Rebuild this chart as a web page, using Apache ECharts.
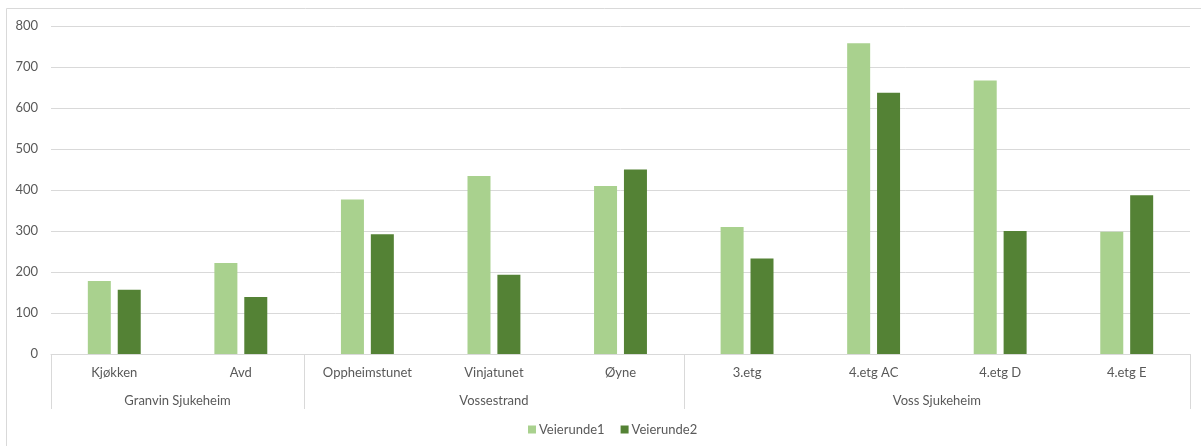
<!DOCTYPE html>
<html>
<head>
<meta charset="utf-8">
<script src="https://cdn.jsdelivr.net/npm/echarts@6/dist/echarts.min.js"></script>
<style>
  html, body { margin: 0; padding: 0; background: #fff; }
  #chart { width: 1201px; height: 446px; }
</style>
</head>
<body>
<div id="chart"></div>
<script>
// units under each site
const categories = ['Kjøkken', 'Avd', 'Oppheimstunet', 'Vinjatunet', 'Øyne', '3.etg', '4.etg AC', '4.etg D', '4.etg E'];
// site groups and how many units each has
const groups = ['Granvin Sjukeheim', 'Vossestrand', 'Voss Sjukeheim'];
const groupSizes = [2, 3, 4];
const veierunde1 = [178, 222, 377, 434, 410, 310, 758, 667, 298];
const veierunde2 = [157, 139, 292, 193, 450, 233, 637, 300, 387];
const yTicks = [0, 100, 200, 300, 400, 500, 600, 700, 800];

// second axis: half-slot points, group name at the middle, ticks at group borders
const halfPoints = [];
const borderIdx = [0];
const labelAt = {};
let pos = 0;
groups.forEach((g, i) => {
    labelAt[pos + groupSizes[i]] = g;
    pos += groupSizes[i] * 2;
    borderIdx.push(pos);
});
for (let i = 0; i <= categories.length * 2; i++) {
    halfPoints.push(labelAt[i] || '');
}

const font = 'Lato, "Open Sans", sans-serif';
const chart = echarts.init(document.getElementById('chart'));
chart.setOption({
    animation: false,
    textStyle: { fontFamily: font },
    color: ['#A9D18E', '#548235'],
    graphic: [{
        type: 'rect',
        shape: { x: 6.5, y: 8.5, width: 1200, height: 445 },
        style: { fill: 'none', stroke: '#d9d9d9', lineWidth: 1 },
        silent: true
    }],
    grid: { left: 51, right: 11, top: 26, bottom: 92 },
    legend: {
        bottom: 5,
        left: 523,
        itemWidth: 8,
        itemHeight: 8,
        itemGap: 16,
        icon: 'rect',
        textStyle: { color: '#595959', fontSize: 13, fontFamily: font, padding: [0, 0, 0, -2] },
        data: ['Veierunde1', 'Veierunde2']
    },
    xAxis: [{
        type: 'category',
        data: categories,
        axisLine: { lineStyle: { color: '#d9d9d9' } },
        axisTick: { show: false },
        axisLabel: { color: '#595959', fontSize: 13, margin: 12, interval: 0 }
    }, {
        type: 'category',
        position: 'bottom',
        boundaryGap: false,
        data: halfPoints,
        axisLine: { show: false },
        axisTick: {
            show: true,
            length: 55,
            interval: (idx) => borderIdx.includes(idx),
            lineStyle: { color: '#d9d9d9' }
        },
        axisLabel: { color: '#595959', fontSize: 13, margin: 40, interval: 0 }
    }],
    yAxis: {
        type: 'value',
        min: yTicks[0],
        max: yTicks[yTicks.length - 1],
        interval: 100,
        axisLine: { show: false },
        axisTick: { show: false },
        axisLabel: { color: '#595959', fontSize: 13, margin: 13 },
        splitLine: { lineStyle: { color: '#d9d9d9' } }
    },
    series: [{
        name: 'Veierunde1',
        type: 'bar',
        barWidth: 23,
        barGap: '30%',
        data: veierunde1
    }, {
        name: 'Veierunde2',
        type: 'bar',
        barWidth: 23,
        barGap: '30%',
        data: veierunde2
    }]
});
</script>
</body>
</html>
